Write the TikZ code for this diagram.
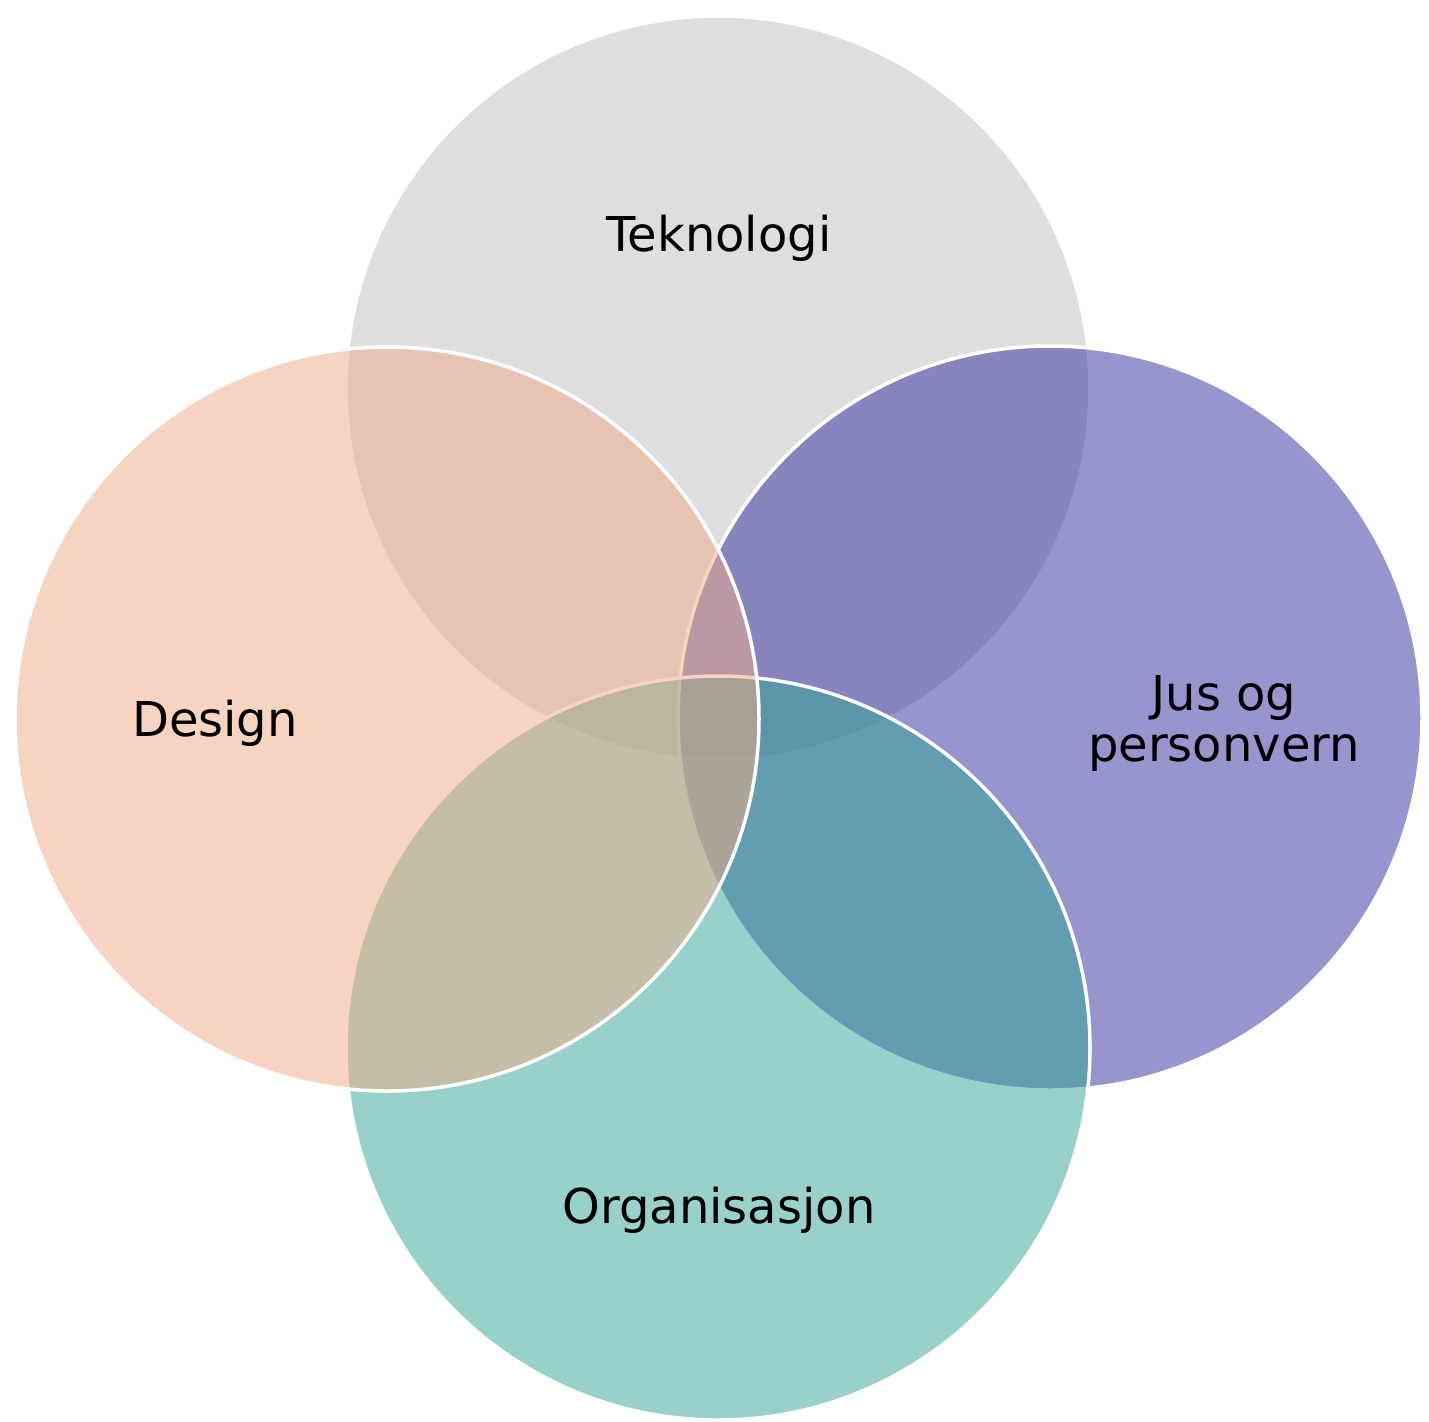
\documentclass[tikz,border=0pt]{standalone}
\usepackage{fontspec}
\setmainfont{DejaVu Sans}
\definecolor{ctop}{RGB}{191,191,191}
\definecolor{cleft}{RGB}{241,171,135}
\definecolor{cright}{RGB}{47,45,159}
\definecolor{cbottom}{RGB}{49,165,149}
\tikzset{
  venn/.style={fill opacity=0.5, draw=white, line width=1.75pt},
  lbl/.style={font=\fontsize{24}{25.5}\selectfont, text=black, align=center, inner sep=0pt}
}
\begin{document}
\begin{tikzpicture}[x=0.5pt,y=-0.5pt]
\useasboundingbox (0,0) rectangle (1429,1421);
\fill[white] (0,0) rectangle (1429,1421);
\coordinate (ct) at (718,388);
\coordinate (cr) at (1050,718);
\coordinate (cb) at (718,1048);
\coordinate (cl) at (387,719);
\path[venn, fill=ctop] (ct) circle[radius=186pt];
\path[venn, fill=cright] (cr) circle[radius=186pt];
\path[venn, fill=cbottom] (cb) circle[radius=186pt];
\path[venn, fill=cleft] (cl) circle[radius=186pt];
\node[lbl] (t) at (719,238) {Teknologi};
\node[lbl] (d) at (215,723) {Design};
\node[lbl] (j) at (1224,723) {Jus og\\personvern};
\node[lbl] (o) at (719,1210) {Organisasjon};
\end{tikzpicture}
\end{document}
